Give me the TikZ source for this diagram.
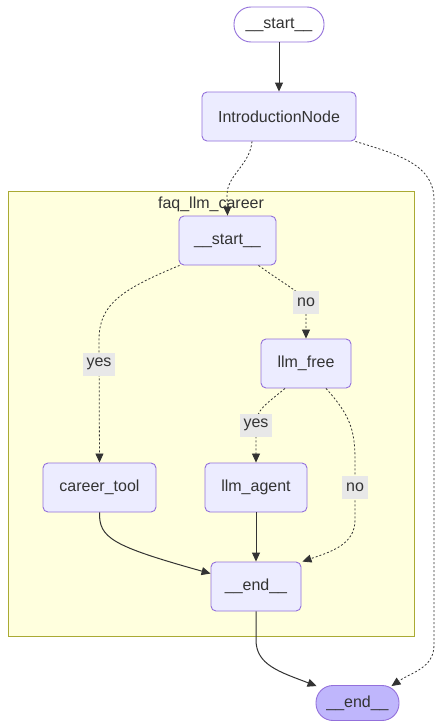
\documentclass[tikz,border=0pt]{standalone}
\usepackage{fontspec}
\setmainfont{Liberation Sans}
\usetikzlibrary{arrows.meta}
\definecolor{nodefill}{HTML}{ECECFF}
\definecolor{nodeedge}{HTML}{9370DB}
\definecolor{txt}{HTML}{333333}
\definecolor{lastfill}{HTML}{BFB6FC}
\definecolor{clfill}{HTML}{FFFFDE}
\definecolor{cledge}{HTML}{AAAA33}
\definecolor{lblfill}{HTML}{E8E8E8}
\tikzset{
  box/.style={draw=nodeedge, line width=0.9pt, fill=nodefill, rounded corners=5pt,
    minimum height=49pt, inner sep=0pt, text=txt, font=\fontsize{16}{19}\selectfont},
  stadium/.style={box, rounded corners=17pt, minimum height=35pt},
  lbl/.style={fill=lblfill, inner xsep=4pt, inner ysep=0pt, minimum height=23pt, text=txt, font=\fontsize{16}{19}\selectfont},
  solidedge/.style={draw=txt, line width=1pt, -{Triangle[length=9pt,width=8pt]}},
  dotedge/.style={draw=txt, line width=0.8pt, dash pattern=on 2pt off 2pt, -{Triangle[length=9pt,width=8pt]}},
}
\begin{document}
\begin{tikzpicture}[x=1pt,y=-1pt]
\useasboundingbox (0,0) rectangle (442,728);
\fill[white] (0,0) rectangle (442,728);
% cluster
\node[draw=cledge, line width=0.9pt, fill=clfill, minimum width=406pt, minimum height=445pt, inner sep=0pt] (cl) at (211,413.5) {};
\node[text=txt, font=\fontsize{16}{19}\selectfont, anchor=north] (cllbl) at (211,193) {faq\_llm\_career};
% nodes
\node[stadium, fill=white, minimum width=90pt] (s0) at (279,24.5) {\_\_start\_\_};
\node[box, minimum width=154pt] (intro) at (279,116.5) {IntroductionNode};
\node[box, minimum width=97pt] (s2) at (227.5,240.5) {\_\_start\_\_};
\node[box, minimum width=90pt] (free) at (306,363.5) {llm\_free};
\node[box, minimum width=113pt] (career) at (99.5,487.5) {career\_tool};
\node[box, minimum width=102pt] (agent) at (256,487.5) {llm\_agent};
\node[box, minimum width=90pt] (iend) at (256,586.5) {\_\_end\_\_};
\node[stadium, fill=lastfill, minimum width=83pt] (fend) at (357.5,703) {\_\_end\_\_};
% waypoints
\coordinate (w1) at (227,195);
\coordinate (w2a) at (434,200);
\coordinate (w2b) at (434,645);
\coordinate (w3) at (99,340);
\coordinate (w4) at (306,305);
\coordinate (w5) at (256,425);
\coordinate (w6a) at (355,460);
\coordinate (w6b) at (355,520);
\coordinate (w7) at (256,640);
% edges
\draw[solidedge] (s0) -- (intro);
\draw[dotedge] ([xshift=-27pt]intro.south) .. controls (250,165) and (227,175) .. (w1) -- (s2.north);
\draw[dotedge] ([xshift=-1pt]intro.south east) .. controls (400,155) and (434,165) .. (w2a) -- (w2b) .. controls (434,668) and (412,672) .. ([xshift=-8pt,yshift=-1pt]fend.north east);
\draw[dotedge] ([xshift=1pt]s2.south west) .. controls (120,290) and (99,305) .. (w3) -- (career.north);
\draw[dotedge] ([xshift=31pt]s2.south) .. controls (290,288) and (306,295) .. (w4) -- (free.north);
\draw[dotedge] ([xshift=-21pt]free.south) .. controls (265,405) and (256,410) .. (w5) -- (agent.north);
\draw[dotedge] ([xshift=20pt]free.south) .. controls (350,415) and (355,430) .. (w6a) -- (w6b) .. controls (355,545) and (330,552) .. ([xshift=1pt]iend.north east);
\draw[solidedge] (career.south) .. controls (99,538) and (112,546) .. ([yshift=-12pt]iend.north west);
\draw[solidedge] (agent) -- (iend);
\draw[solidedge] (iend.south) -- (w7) .. controls (256,665) and (280,672) .. ([xshift=1pt,yshift=-1pt]fend.north west);
% labels
\node[lbl] (lno1) at (306,302) {no};
\node[lbl] (lyes1) at (99,364) {yes};
\node[lbl] (lyes2) at (256,425) {yes};
\node[lbl] (lno2) at (355,487) {no};
\end{tikzpicture}
\end{document}
